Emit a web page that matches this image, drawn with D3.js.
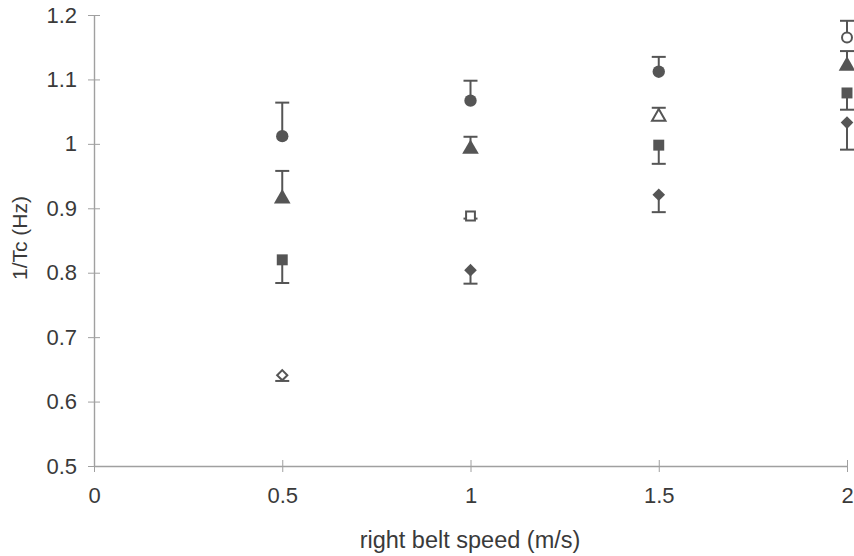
<!DOCTYPE html>
<html><head><meta charset="utf-8">
<script src="https://cdn.jsdelivr.net/npm/d3@7"></script>
<style>body{margin:0;background:#fff}svg{display:block}text{font-family:"Liberation Sans",Arial,sans-serif;fill:#3a3a3a}</style>
</head><body><svg id="c" width="854" height="556"></svg>
<script>
const speeds = [0.5, 1, 1.5, 2];
const xTicks = [0, 0.5, 1, 1.5, 2];
const yTicks = [0.5, 0.6, 0.7, 0.8, 0.9, 1, 1.1, 1.2];
const yTickLabels = ["0.5","0.6","0.7","0.8","0.9","1","1.1","1.2"];
// series: circle (error up), triangle (error up), square (error down), diamond (error down)
const circleVals = [1.012, 1.067, 1.112, 1.165];
const circleErr = [1.064, 1.098, 1.135, 1.191];
const circleHollow = [false, false, false, true];
const triangleVals = [0.915, 0.992, 1.042, 1.121];
const triangleErr = [0.958, 1.011, 1.056, 1.144];
const triangleHollow = [false, false, true, false];
const squareVals = [0.820, 0.888, 0.998, 1.079];
const squareErr = [0.784, 0.884, 0.969, 1.053];
const squareHollow = [false, true, false, false];
const diamondVals = [0.641, 0.804, 0.921, 1.033];
const diamondErr = [0.632, 0.783, 0.894, 0.991];
const diamondHollow = [true, false, false, false];

const series = [
  {sym: d3.symbolCircle, size: 120, rot: 0, vals: circleVals, err: circleErr, hollow: circleHollow},
  {sym: d3.symbolTriangle, size: 120, rot: 0, vals: triangleVals, err: triangleErr, hollow: triangleHollow},
  {sym: d3.symbolSquare, size: 120, rot: 0, vals: squareVals, err: squareErr, hollow: squareHollow},
  {sym: d3.symbolSquare, size: 80, rot: 45, vals: diamondVals, err: diamondErr, hollow: diamondHollow}
];

const svg = d3.select("#c");
const x = d3.scaleLinear().domain([0, 2]).range([94, 847]);
const y = d3.scaleLinear().domain([0.5, 1.2]).range([466, 15]);
const axisCol = "#a0a0a0";
const fs = 22;

// axes
const gy = svg.append("g").attr("transform", "translate(94,0)")
  .call(d3.axisLeft(y).tickValues(yTicks).tickFormat((d,i)=>yTickLabels[i]).tickSizeInner(7).tickSizeOuter(0));
gy.selectAll("line").attr("stroke", axisCol).attr("x2", 6).attr("x1", -6);
gy.select(".domain").attr("stroke", axisCol).attr("stroke-width", 1.4);
gy.selectAll("text").attr("font-size", fs).attr("x", -17).style("fill", "#3a3a3a");

const gx = svg.append("g").attr("transform", "translate(0,466)")
  .call(d3.axisBottom(x).tickValues(xTicks).tickFormat(d3.format("")).tickSizeInner(6).tickSizeOuter(0));
gx.selectAll("line").attr("stroke", axisCol).attr("y1", -6).attr("y2", 6);
gx.select(".domain").attr("stroke", axisCol).attr("stroke-width", 1.4);
gx.selectAll("text").attr("font-size", fs).attr("y", 21).style("fill", "#3a3a3a");

svg.append("text").attr("x", 470).attr("y", 548).attr("text-anchor", "middle").attr("font-size", 23.5).text("right belt speed (m/s)");
svg.append("text").attr("transform", "translate(27,238) rotate(-90)").attr("text-anchor", "middle").attr("font-size", 21).text("1/Tc (Hz)");

const mc = "#555";
series.forEach(s => {
  const g = svg.append("g");
  speeds.forEach((sp, i) => {
    const cx = x(sp), cy = y(s.vals[i]), ey = y(s.err[i]);
    g.append("line").attr("x1", cx).attr("x2", cx).attr("y1", cy).attr("y2", ey).attr("stroke", mc).attr("stroke-width", 2);
    g.append("line").attr("x1", cx - 7).attr("x2", cx + 7).attr("y1", ey).attr("y2", ey).attr("stroke", mc).attr("stroke-width", 2);
    g.append("path").attr("d", d3.symbol().type(s.sym).size(s.hollow[i] ? s.size * 0.65 : s.size)())
      .attr("transform", `translate(${cx},${cy}) rotate(${s.rot})`)
      .attr("fill", s.hollow[i] ? "#fff" : mc)
      .attr("stroke", mc).attr("stroke-width", s.hollow[i] ? 2 : 0);
  });
});
</script></body></html>
